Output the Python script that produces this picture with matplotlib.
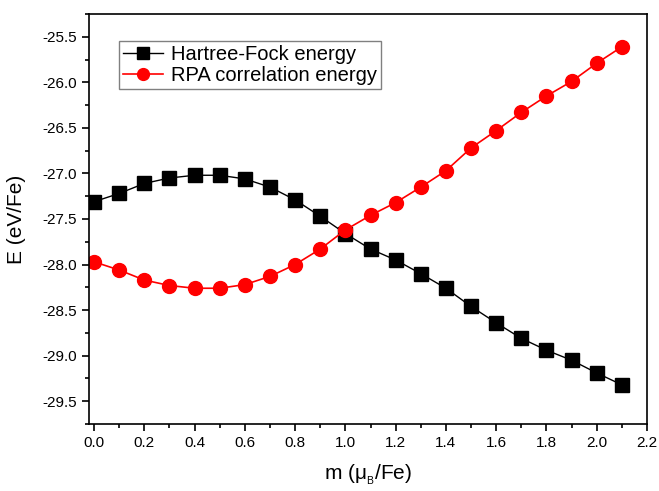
import numpy as np
import matplotlib.pyplot as plt
from matplotlib.ticker import MultipleLocator

plt.rcParams['font.family'] = ['Liberation Sans', 'DejaVu Sans']

# --- datos ---
m = [0.0, 0.1, 0.2, 0.3, 0.4, 0.5, 0.6, 0.7, 0.8, 0.9, 1.0,
     1.1, 1.2, 1.3, 1.4, 1.5, 1.6, 1.7, 1.8, 1.9, 2.0, 2.1]
e_hf = [-27.31, -27.22, -27.11, -27.05, -27.02, -27.02, -27.06, -27.15, -27.29, -27.47, -27.66,
        -27.83, -27.95, -28.10, -28.26, -28.46, -28.64, -28.81, -28.94, -29.05, -29.19, -29.32]
e_rpa = [-27.97, -28.06, -28.17, -28.23, -28.26, -28.26, -28.22, -28.13, -28.00, -27.83, -27.62,
         -27.46, -27.32, -27.15, -26.97, -26.72, -26.53, -26.33, -26.15, -25.99, -25.79, -25.61]

fig = plt.figure(figsize=(6.59, 4.91), dpi=100)
ax = fig.add_axes([89/659, 1 - 424/491, (647 - 89)/659, (424 - 14)/491])

ax.plot(m, e_hf, 'ks-', label="Hartree-Fock energy", markersize=10, linewidth=1)
ax.plot(m, e_rpa, 'o-', color='red', label="RPA correlation energy", markersize=10, linewidth=1.2)

ax.set_xlim(-0.02, 2.2)
ax.set_ylim(-29.75, -25.25)
ax.xaxis.set_major_locator(MultipleLocator(0.2))
ax.xaxis.set_minor_locator(MultipleLocator(0.1))
ax.yaxis.set_major_locator(MultipleLocator(0.5))
ax.yaxis.set_minor_locator(MultipleLocator(0.25))
ax.xaxis.set_major_formatter(plt.FormatStrFormatter('%.1f'))
ax.yaxis.set_major_formatter(plt.FormatStrFormatter('%.1f'))
ax.tick_params(which='both', direction='out', top=False, right=False, labelsize=11, width=1.2)
ax.tick_params(which='major', length=5)
ax.tick_params(which='minor', length=3)
for s in ax.spines.values():
    s.set_linewidth(1.2)

ax.set_xlabel(r"m ($\mathregular{\mu_{_B}}$/Fe)", fontsize=15, labelpad=9)
ax.set_ylabel("E (eV/Fe)", fontsize=15, labelpad=12)

ax.legend(loc='upper left', bbox_to_anchor=(0.053, 0.935), fontsize=14.5, fancybox=False,
          edgecolor='gray', framealpha=1, borderpad=0.2, labelspacing=0.1, handlelength=2.0,
          handletextpad=0.4, markerscale=0.85, borderaxespad=0)

fig.savefig('out.png', dpi=100)
